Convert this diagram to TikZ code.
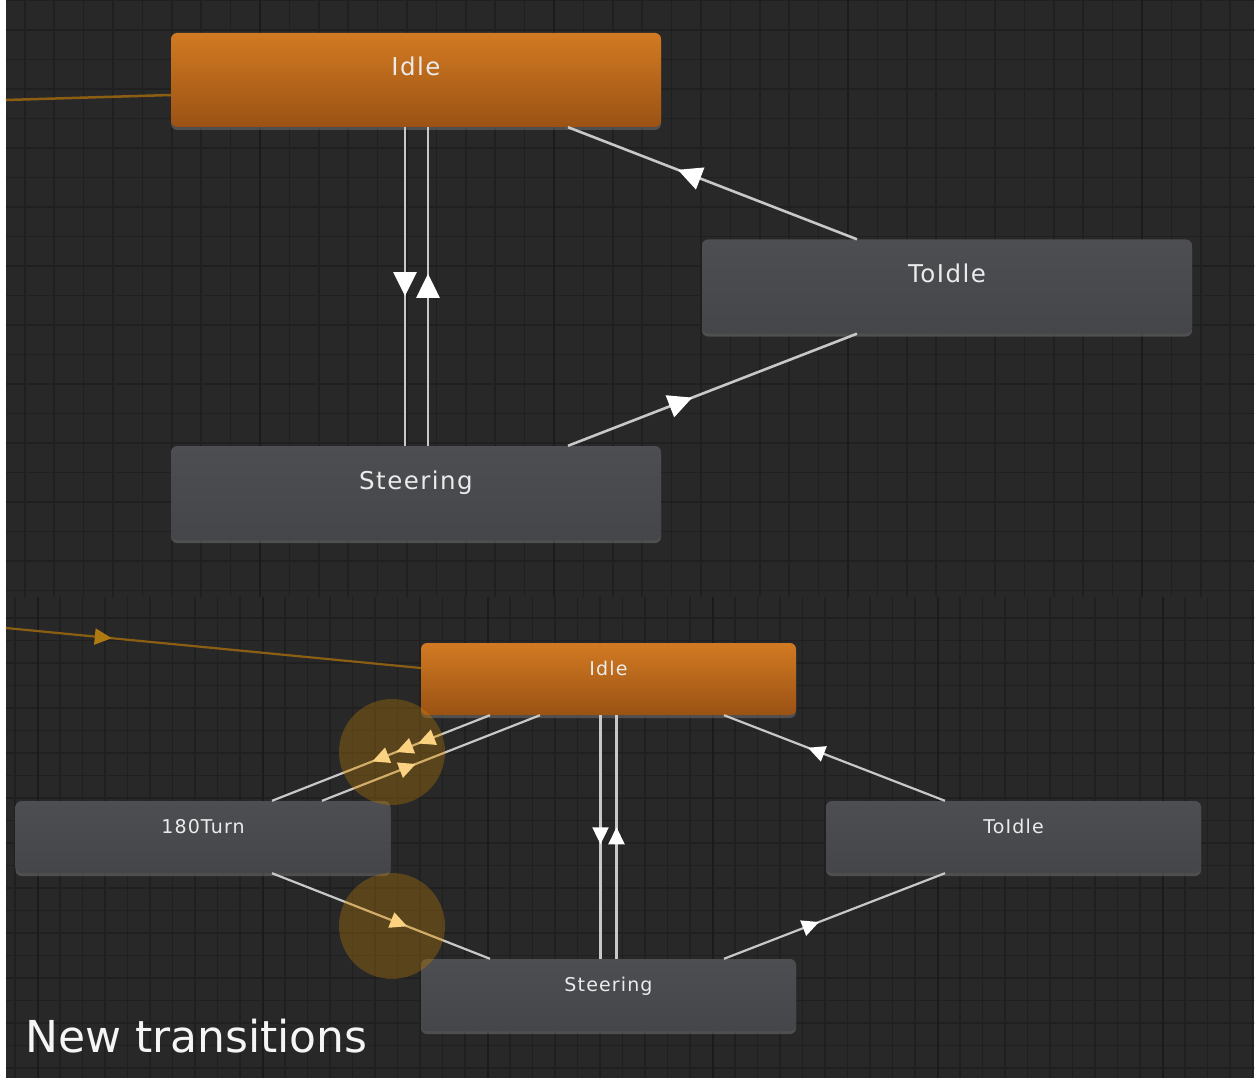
\documentclass[tikz,border=0pt]{standalone}
\usepackage{fontspec}
\setmainfont{DejaVu Sans}
\newfontfamily\statefont[LetterSpace=6]{DejaVu Sans}
\usepackage{xcolor}
\usepackage{tikz}
\usetikzlibrary{arrows.meta,shadows,decorations.markings}

\definecolor{canvas}{HTML}{282828}
\definecolor{gridln}{HTML}{202020}
\definecolor{gridmaj}{HTML}{1B1B1B}
\definecolor{stategray}{HTML}{4D4E52}
\definecolor{stategraylo}{HTML}{45464A}
\definecolor{idletop}{HTML}{D27A22}
\definecolor{idlebot}{HTML}{9A5214}
\definecolor{transln}{HTML}{C8C8C8}
\definecolor{entryln}{HTML}{8C5E12}
\definecolor{entryarr}{HTML}{B07A12}
\definecolor{hilite}{HTML}{F0AA28}
\definecolor{hilitemul}{HTML}{FFE0A0}

\begin{document}
\begin{tikzpicture}[x=1pt,y=-1pt,
  state/.style={rounded corners=6pt,top color=stategray,bottom color=stategraylo,
                drop shadow={opacity=0.45,shadow xshift=0pt,shadow yshift=-3pt},
                inner sep=0pt,text=white!92!black},
  bigstate/.style={state,minimum width=490pt,text height=43pt,text depth=51pt,
                   font=\statefont\fontsize{24.5}{28}\selectfont},
  smallstate/.style={state,minimum width=375pt,text height=32pt,text depth=40pt,
                     font=\statefont\fontsize{19}{22}\selectfont},
  idle/.style={top color=idletop,bottom color=idlebot},
  trans/.style={draw=transln,line width=2.6pt},
  arrat/.style={postaction={decorate,decoration={markings,
      mark=at position #1 with {\arrow{Triangle[length=24pt,width=23pt,color=white]}}}}},
  sarrat/.style={line width=2.2pt,postaction={decorate,decoration={markings,
      mark=at position #1 with {\arrow{Triangle[length=17pt,width=16pt,color=white]}}}}},
  triarr/.style={line width=2.2pt,postaction={decorate,decoration={markings,
      mark=at position 0.33 with {\arrow{Triangle[length=17pt,width=16pt,color=white]}},
      mark=at position 0.43 with {\arrow{Triangle[length=17pt,width=16pt,color=white]}},
      mark=at position 0.54 with {\arrow{Triangle[length=17pt,width=16pt,color=white]}}}}},
  gridline/.style={gridln,line width=1.5pt},
  gridmajor/.style={gridmaj,line width=2pt}]
  \useasboundingbox (0,0) rectangle (1259,1078);
  \fill[white] (0,0) rectangle (1259,1078);
  % top panel grid
  \begin{scope}
    \clip (6,0) rectangle (1254,597);
    \fill[canvas] (6,0) rectangle (1254,597);
    \foreach \i in {0,...,43} \draw[gridline] ({-4.6+\i*29.4},0) -- ++(0,597);
    \foreach \i in {0,...,20} \draw[gridline] (0,{0.5+\i*29.5}) -- ++(1259,0);
    \foreach \i in {0,...,4} \draw[gridmajor] ({-34+\i*294},0) -- ++(0,597);
  \end{scope}
  % bottom panel grid
  \begin{scope}
    \clip (6,597) rectangle (1254,1078);
    \fill[canvas] (6,597) rectangle (1254,1078);
    \foreach \i in {0,...,57} \draw[gridline] ({-7.5+\i*22.5},597) -- ++(0,481);
    \foreach \i in {0,...,22} \draw[gridline] (0,{595.5+\i*22.5}) -- ++(1259,0);
    \foreach \i in {0,...,5} \draw[gridmajor] ({38+\i*225},597) -- ++(0,481);
  \end{scope}

  % before
  \node[bigstate,idle](IdleA) at (416,80) {Idle};
  \node[bigstate](ToIdleA) at (947,286.5) {ToIdle};
  \node[bigstate](SteerA) at (416,493) {Steering};
  \coordinate (entryA) at (6,100);
  \draw[entryln,line width=2.5pt](entryA)--([yshift=-15pt]IdleA.west);
  \draw[trans,arrat=0.53]([xshift=-11pt]IdleA.south)--([xshift=-11pt]SteerA.north);
  \draw[trans,arrat=0.54]([xshift=12pt]SteerA.north)--([xshift=12pt]IdleA.south);
  \draw[trans,arrat=0.62]([xshift=-90pt]ToIdleA.north)--([xshift=152pt]IdleA.south);
  \draw[trans,arrat=0.43]([xshift=152pt]SteerA.north)--([xshift=-90pt]ToIdleA.south);

  % after
  \node[smallstate,idle](IdleB) at (608.5,679) {Idle};
  \node[smallstate](TurnB) at (203,837) {180Turn};
  \node[smallstate](ToIdleB) at (1013.5,837) {ToIdle};
  \node[smallstate](SteerB) at (608.5,995) {Steering};
  \coordinate (entryB) at (6,628);
  \draw[entryln,line width=2.2pt,postaction={decorate,decoration={markings,
      mark=at position 0.255 with {\arrow{Triangle[length=17pt,width=16pt,color=entryarr]}}}}]
      (entryB)--([yshift=11pt]IdleB.west);
  \draw[trans,sarrat=0.53]([xshift=-8pt]IdleB.south)--([xshift=-8pt]SteerB.north);
  \draw[trans,sarrat=0.54]([xshift=8pt]SteerB.north)--([xshift=8pt]IdleB.south);
  \draw[trans,sarrat=0.62]([xshift=-68.5pt]ToIdleB.north)--([xshift=115.5pt]IdleB.south);
  \draw[trans,sarrat=0.43]([xshift=115.5pt]SteerB.north)--([xshift=-68.5pt]ToIdleB.south);
  \draw[trans,triarr]([xshift=-118.5pt]IdleB.south)--([xshift=69pt]TurnB.north);
  \draw[trans,sarrat=0.43]([xshift=119pt]TurnB.north)--([xshift=-68.5pt]IdleB.south);
  \draw[trans,sarrat=0.62]([xshift=69pt]TurnB.south)--([xshift=-118.5pt]SteerB.north);

  % highlights on the new transitions
  \foreach \cy in {752,926}{
    \fill[hilitemul,blend mode=multiply] (392,\cy) circle[radius=53pt];
    \fill[hilite,fill opacity=0.25] (392,\cy) circle[radius=53pt];
  }

  \node[anchor=base west,inner sep=0pt,text=white!96!black,
        font=\fontsize{44}{50}\selectfont](caption) at (25,1052) {New transitions};
\end{tikzpicture}
\end{document}
